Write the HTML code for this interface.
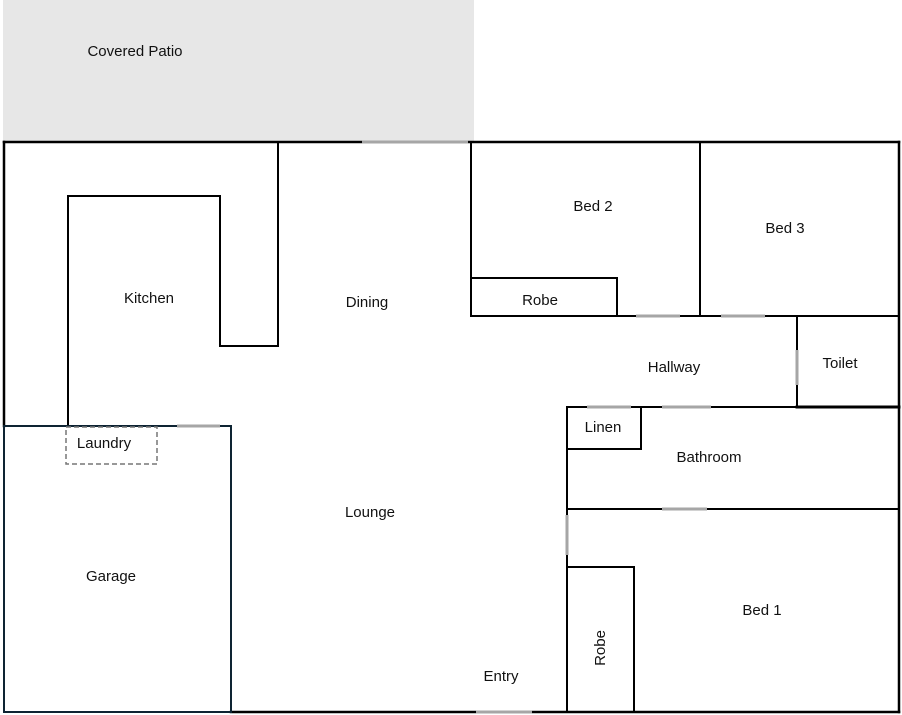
<!DOCTYPE html>
<html><head><meta charset="utf-8"><style>
html,body{margin:0;padding:0;background:#fff;width:902px;height:715px;overflow:hidden}
text{font-family:"Liberation Sans",sans-serif;font-size:15px;fill:#111}
</style></head><body>
<svg width="902" height="715" viewBox="0 0 902 715" xmlns="http://www.w3.org/2000/svg">
<rect x="3" y="0" width="471" height="141" fill="#e7e7e7"/>
<g stroke="#000" stroke-width="2.5" fill="none" stroke-linecap="square">
<line x1="4" y1="142" x2="899" y2="142"/>
<line x1="4" y1="142" x2="4" y2="426"/>
<line x1="899" y1="142" x2="899" y2="712"/>
<line x1="231" y1="712" x2="899" y2="712"/>
<polyline points="68,425 68,196 220,196 220,346 278,346 278,142" stroke-width="2"/>
<line x1="471" y1="142" x2="471" y2="316" stroke-width="2"/>
<line x1="471" y1="316" x2="899" y2="316" stroke-width="2"/>
<rect x="471" y="278" width="146" height="38" stroke-width="2"/>
<line x1="700" y1="142" x2="700" y2="316" stroke-width="2"/>
<line x1="797" y1="316" x2="797" y2="407" stroke-width="2"/>
<line x1="797" y1="407" x2="899" y2="407" stroke-width="3"/>
<line x1="567" y1="407" x2="797" y2="407" stroke-width="2"/>
<line x1="567" y1="407" x2="567" y2="712" stroke-width="2"/>
<rect x="567" y="407" width="74" height="42" stroke-width="2"/>
<line x1="567" y1="509" x2="899" y2="509" stroke-width="2"/>
<rect x="567" y="567" width="67" height="145" stroke-width="2"/>
</g>
<rect x="4" y="426" width="227" height="286" fill="none" stroke="#0e2433" stroke-width="2"/>
<rect x="66" y="427" width="91" height="37" fill="none" stroke="#777" stroke-width="1.5" stroke-dasharray="5,3"/>
<g stroke="#a6a6a6" stroke-width="3">
<line x1="362" y1="142" x2="468" y2="142"/>
<line x1="177" y1="426" x2="220" y2="426"/>
<line x1="636" y1="316" x2="680" y2="316"/>
<line x1="721" y1="316" x2="765" y2="316"/>
<line x1="797" y1="350" x2="797" y2="385"/>
<line x1="587" y1="407" x2="631" y2="407"/>
<line x1="662" y1="407" x2="711" y2="407"/>
<line x1="662" y1="509" x2="707" y2="509"/>
<line x1="567" y1="515" x2="567" y2="555"/>
<line x1="476" y1="712" x2="532" y2="712"/>
</g>
<text x="135" y="56" text-anchor="middle">Covered Patio</text>
<text x="149" y="303" text-anchor="middle">Kitchen</text>
<text x="367" y="307" text-anchor="middle">Dining</text>
<text x="593" y="211" text-anchor="middle">Bed 2</text>
<text x="785" y="233" text-anchor="middle">Bed 3</text>
<text x="540" y="305" text-anchor="middle">Robe</text>
<text x="674" y="372" text-anchor="middle">Hallway</text>
<text x="840" y="368" text-anchor="middle">Toilet</text>
<text x="603" y="432" text-anchor="middle">Linen</text>
<text x="709" y="462" text-anchor="middle">Bathroom</text>
<text x="104" y="448" text-anchor="middle">Laundry</text>
<text x="370" y="517" text-anchor="middle">Lounge</text>
<text x="111" y="581" text-anchor="middle">Garage</text>
<text x="762" y="615" text-anchor="middle">Bed 1</text>
<text x="501" y="681" text-anchor="middle">Entry</text>
<text x="0" y="0" text-anchor="middle" transform="translate(605,648) rotate(-90)">Robe</text>
</svg>
</body></html>
